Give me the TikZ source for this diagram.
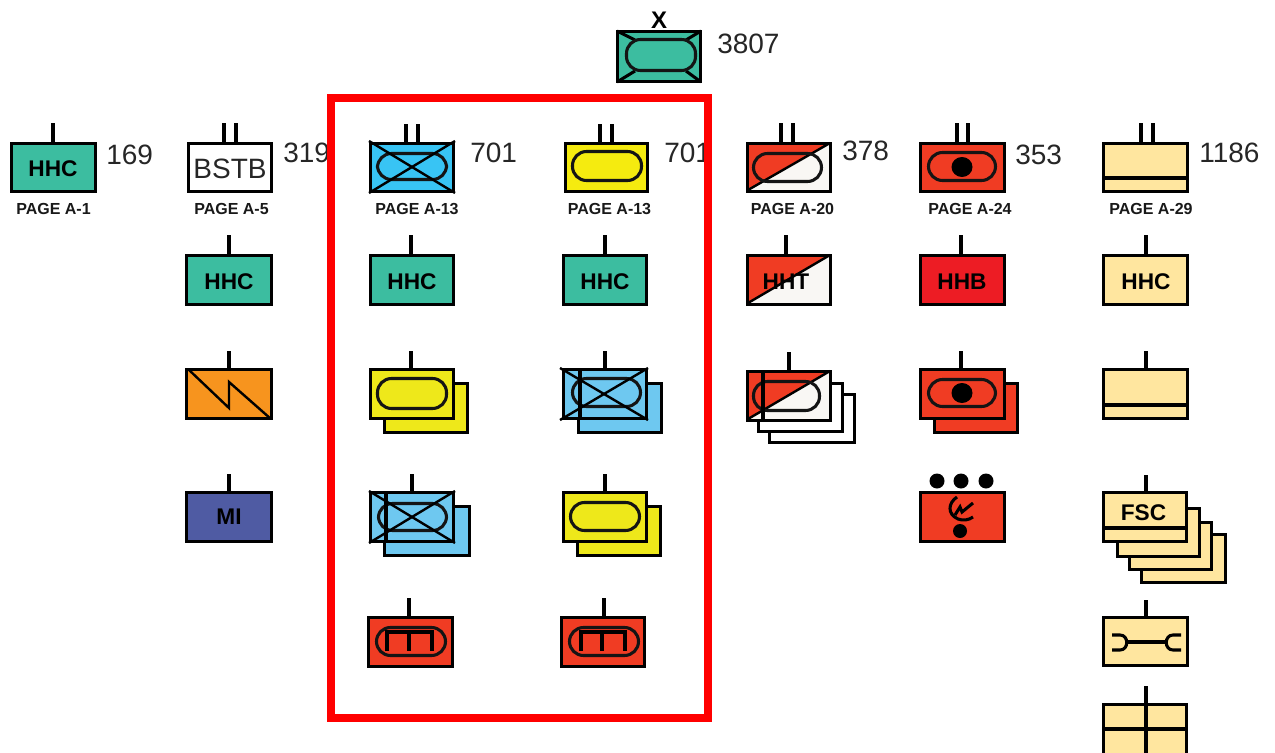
\documentclass[tikz,border=0pt]{standalone}
\usepackage{fontspec}
\setmainfont{Liberation Sans}
\definecolor{teal}{HTML}{3CBDA0}
\definecolor{bluetop}{HTML}{38C4F4}
\definecolor{bluelt}{HTML}{6EC8F0}
\definecolor{yeltop}{HTML}{F5EB0F}
\definecolor{yel}{HTML}{EEE81A}
\definecolor{orng}{HTML}{F7941E}
\definecolor{mi}{HTML}{4F5BA3}
\definecolor{redu}{HTML}{F03C23}
\definecolor{redh}{HTML}{ED1C24}
\definecolor{cream}{HTML}{FFE69F}
\definecolor{offw}{HTML}{F9F7F4}
\definecolor{ink}{HTML}{262626}
\tikzset{
  ubox/.style={draw=black,line width=2.4pt,line join=miter},
  ovalline/.style={draw=black!92,line width=2.3pt,rounded corners=10.5pt},
  thinline/.style={draw=black,line width=1.8pt},
  symline/.style={draw=black,line width=2.3pt,line join=miter},
  tickline/.style={draw=black,line width=2.3pt},
  num/.style={anchor=west,inner sep=0pt,text=ink,font=\fontsize{21}{21}\selectfont},
  lab/.style={inner sep=0pt,text=black,font=\fontsize{17}{17}\selectfont\bfseries},
  pagelab/.style={inner sep=0pt,text=black!90,font=\fontsize{12}{12}\selectfont\bfseries},
}
\newcommand{\ubx}[5]{\draw[ubox,fill=#1] ({#2+1.5},{#3+1.5}) rectangle ({#4-1.5},{#5-1.5});}
\newcommand{\ovl}[4]{\draw[ovalline] ({#1+1.5},{#2+1.5}) rectangle ({#3-1.5},{#4-1.5});}
\newcommand{\tck}[3]{\draw[tickline] (#1,#2) -- (#1,#3);}
\newcommand{\xcross}[4]{\draw[thinline] (#1,#2) -- (#3,#4); \draw[thinline] (#1,#4) -- (#3,#2);}
\newcommand{\splitbox}[4]{%
  \fill[redu] ({#1+2},{#2+2}) -- ({#3-4},{#2+2}) -- ({#1+2},{#4-2}) -- cycle;
  \fill[offw] ({#3-2},{#2+2}) -- ({#3-2},{#4-2}) -- ({#1+2},{#4-2}) -- cycle;
  \draw[thinline] ({#1+2},{#4-3}) -- ({#3-2},{#2+1});
  \draw[ubox] ({#1+1.5},{#2+1.5}) rectangle ({#3-1.5},{#4-1.5});}
\begin{document}
\begin{tikzpicture}[x=0.75pt,y=-0.75pt]
\useasboundingbox (0,0) rectangle (1275,753);
\clip (0,0) rectangle (1275,753);
\fill[white] (0,0) rectangle (1275,753);

% Brigade
\node[inner sep=0pt,font=\fontsize{18}{18}\selectfont\bfseries] (xmark) at (659,20) {X};
\ubx{teal}{616}{30}{702}{83}
\draw[symline] (617,31) -- (635,40); \draw[symline] (701,31) -- (686,40);
\draw[symline] (617,82) -- (635,71); \draw[symline] (701,82) -- (686,71);
\ovl{625}{38}{697}{72}
\node[num] (n3807) at (717,44) {3807};

% Column 1
\tck{53}{123}{142}
\ubx{teal}{10}{142}{97}{193}
\node[lab] (hhc1) at (53,168.5) {HHC};
\node[num] (n169) at (106,155) {169};
\node[pagelab] (p1) at (53.5,209) {PAGE A-1};

% Column 2
\tck{224}{123}{142}\tck{236}{123}{142}
\ubx{white}{187}{142}{273}{193}
\node[inner sep=0pt,text=ink,font=\fontsize{21}{21}\selectfont] (bstb) at (230,169) {BSTB};
\node[num] (n319) at (283,153) {319};
\node[pagelab] (p5) at (231.5,209) {PAGE A-5};
\tck{229}{235}{254}
\ubx{teal}{185}{254}{273}{306}
\node[lab] (hhc2) at (229,281.5) {HHC};
\tck{229}{351}{368}
\ubx{orng}{185}{368}{273}{420}
\draw[thinline,line join=miter] (188,369) -- (229,408) -- (229,382) -- (271,419);
\tck{229}{474}{491}
\ubx{mi}{185}{491}{273}{543}
\node[lab] (mi) at (229,517) {MI};

% Column 3
\tck{406}{124}{142}\tck{418}{124}{142}
\ubx{bluetop}{369}{142}{455}{193}
\ovl{376}{152}{448}{181}
\xcross{369}{141}{455}{193}
\node[num] (n701a) at (470,153) {701};
\node[pagelab] (p13a) at (417,209) {PAGE A-13};
\tck{411}{235}{254}
\ubx{teal}{369}{254}{455}{306}
\node[lab] (hhc3) at (412,281.5) {HHC};
\ubx{yel}{383}{382}{469}{434}
\tck{411}{351}{368}
\ubx{yel}{369}{368}{455}{420}
\ovl{376}{377}{448}{410}
\ubx{bluelt}{383}{505}{471}{557}
\tck{412}{474}{491}
\ubx{bluelt}{369}{491}{455}{543}
\ovl{377}{502}{448}{532}
\draw[symline] (386,491) -- (386,543);
\xcross{369}{491}{455}{543}
\tck{409}{598}{616}
\ubx{redu}{367}{616}{454}{668}
\ovl{375}{626}{447}{657}
\draw[symline] (387,651) -- (387,632) -- (432,632) -- (432,651);
\draw[symline] (409,632) -- (409,651);

% Column 4
\tck{600}{124}{142}\tck{612}{124}{142}
\ubx{yeltop}{564}{142}{649}{193}
\ovl{571}{150}{643}{182}
\node[pagelab] (p13b) at (609.5,209) {PAGE A-13};
\tck{605}{235}{254}
\ubx{teal}{562}{254}{648}{306}
\node[lab] (hhc4) at (605,281.5) {HHC};
\ubx{bluelt}{577}{382}{663}{434}
\tck{605}{351}{368}
\ubx{bluelt}{562}{368}{648}{420}
\ovl{571}{377}{642}{408}
\draw[symline] (580,368) -- (580,420);
\xcross{560}{368}{648}{420}
\ubx{yel}{576}{505}{662}{557}
\tck{605}{474}{491}
\ubx{yel}{562}{491}{648}{543}
\ovl{569}{501}{641}{532}
\tck{604}{598}{616}
\ubx{redu}{560}{616}{646}{668}
\ovl{568}{626}{640}{657}
\draw[symline] (581,651) -- (581,632) -- (625,632) -- (625,651);
\draw[symline] (602,632) -- (602,651);
\node[num] (n701b) at (664,153) {701};

% Column 5
\tck{781}{123}{142}\tck{793}{123}{142}
\splitbox{746}{142}{832}{193}
\ovl{752}{152}{823}{183}
\node[num] (n378) at (842,151) {378};
\node[pagelab] (p20) at (792.5,209) {PAGE A-20};
\tck{786}{235}{254}
\splitbox{746}{254}{832}{306}
\node[lab] (hht) at (786,281.5) {HHT};
\ubx{white}{768}{393}{856}{444}
\ubx{white}{757}{382}{844}{433}
\tck{789}{352}{370}
\splitbox{746}{370}{832}{422}
\ovl{752}{380}{821}{412}
\draw[ubox] (763,370) -- (763,422);

% Column 6
\tck{957}{123}{142}\tck{968}{123}{142}
\ubx{redu}{919}{142}{1006}{193}
\ovl{927}{151}{997}{182}
\fill[black] (962,167) ellipse (10.5 and 10);
\node[num] (n353) at (1015,155) {353};
\node[pagelab] (p24) at (970,209) {PAGE A-24};
\tck{961}{235}{254}
\ubx{redh}{919}{254}{1006}{306}
\node[lab] (hhb) at (962,281.5) {HHB};
\ubx{redu}{933}{382}{1019}{434}
\tck{961}{351}{368}
\ubx{redu}{919}{368}{1006}{420}
\ovl{927}{378}{997}{408}
\fill[black] (962,393) ellipse (10.5 and 10);
\fill[black] (937,481) circle (7.5) (961,481) circle (7.5) (986,481) circle (7.5);
\ubx{redu}{919}{491}{1006}{543}
\fill[black] (960,531) circle (7);
\draw[symline] (957,497) .. controls (948,503) and (947,514) .. (958,519) .. controls (963,521) and (969,520) .. (973,517);
\draw[symline] (955,515) -- (960,507) -- (962,512) -- (973,503);

% Column 7
\tck{1141}{123}{142}\tck{1153}{123}{142}
\ubx{cream}{1102}{142}{1189}{193}
\draw[ubox] (1102,178) -- (1189,178);
\node[num] (n1186) at (1199,153) {1186};
\node[pagelab] (p29) at (1151,209) {PAGE A-29};
\tck{1146}{235}{254}
\ubx{cream}{1102}{254}{1189}{306}
\node[lab] (hhc5) at (1146,281.5) {HHC};
\tck{1146}{351}{368}
\ubx{cream}{1102}{368}{1189}{420}
\draw[ubox] (1102,405) -- (1189,405);
\ubx{cream}{1140}{533}{1227}{584}
\ubx{cream}{1128}{521}{1213}{571}
\ubx{cream}{1116}{507}{1201}{558}
\tck{1146}{475}{491}
\ubx{cream}{1102}{491}{1188}{543}
\draw[ubox] (1102,528) -- (1188,528);
\node[lab] (fsc) at (1143.5,513) {FSC};
\tck{1146}{600}{616}
\ubx{cream}{1102}{616}{1189}{667}
\draw[symline] (1127,642) -- (1165,642);
\draw[symline] (1112,635) -- (1120,635) .. controls (1129,635) and (1129,650) .. (1120,650) -- (1112,650);
\draw[symline] (1181,635) -- (1173,635) .. controls (1164,635) and (1164,650) .. (1173,650) -- (1181,650);
\ubx{cream}{1102}{703}{1188}{770}
\draw[ubox] (1102,729) -- (1188,729);
\draw[tickline] (1146,686) -- (1146,753);

% Red frame
\draw[draw={rgb,255:red,255;green,0;blue,0},line width=5.6pt] (331,98) rectangle (708,718);
\end{tikzpicture}
\end{document}
